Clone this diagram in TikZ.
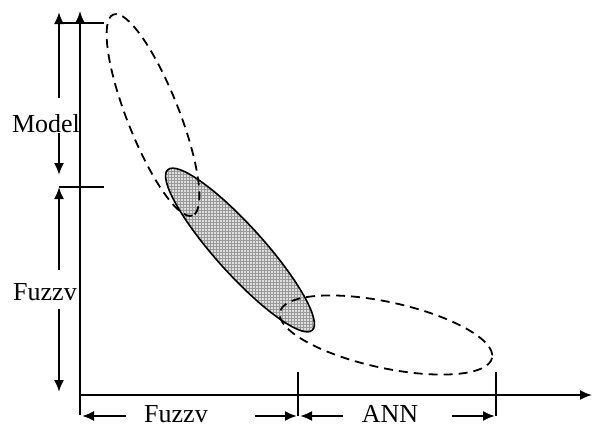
\documentclass[tikz,border=0pt]{standalone}
\usepackage{fontspec}
\setmainfont{Liberation Serif}
\usetikzlibrary{arrows.meta,patterns}

\begin{document}
\begin{tikzpicture}[x=1pt,y=-1pt,
    dim/.style={line width=2pt,-{Latex[length=12pt,width=10pt]}},
    lbl/.style={font=\fontsize{26}{30}\selectfont,inner sep=0pt},
    region/.style={line width=1.8pt,dash pattern=on 9pt off 6pt}]
    \useasboundingbox (0,0) rectangle (592,426);

    % axes
    \draw[dim,line width=1.8pt] (80,415) -- (80,11);
    \draw[dim,line width=1.8pt] (80,395) -- (592,395);

    % ticks
    \foreach \y in {23,187}
        \draw[line width=2pt] (59,\y) -- (104,\y);
    \foreach \x in {298,496}
        \draw[line width=2pt] (\x,372) -- (\x,416);

    % shaded overlap region
    \filldraw[line width=1.6pt, shift={(240,250)}, rotate=-48,
        preaction={fill=gray!25}, pattern=grid, pattern color=gray!80]
        (0,0) ellipse [x radius=108, y radius=24];

    % dashed regions
    \draw[region, shift={(153,115)}, rotate=-68.5]
        (0,0) ellipse [x radius=108, y radius=26];
    \draw[region, shift={(386,335)}, rotate=-12.2]
        (0,0) ellipse [x radius=108.5, y radius=33];

    % vertical labels
    \coordinate (mtop) at (59,12);
    \coordinate (mbot) at (59,175);
    \coordinate (ftop) at (59,187);
    \coordinate (fbot) at (59,392);
    \node[lbl] (model) at (46,124) {Model};
    \node[lbl] (fuzzl) at (45,292) {Fuzzv};
    \draw[dim] ([yshift=17pt]model.north -| mtop) -- (mtop);
    \draw[dim] (model.south -| mbot) -- (mbot);
    \draw[dim] ([yshift=13pt]fuzzl.north -| ftop) -- (ftop);
    \draw[dim] ([yshift=-8pt]fuzzl.south -| fbot) -- (fbot);

    % horizontal labels
    \coordinate (fl) at (82,416);
    \coordinate (fr) at (297,416);
    \coordinate (al) at (300,416);
    \coordinate (ar) at (495,416);
    \node[lbl,anchor=base] (fuzzb) at (176,422) {Fuzzv};
    \node[lbl,anchor=base] (ann) at (390,422) {ANN};
    \draw[dim] ([xshift=-18pt]fuzzb.west |- fl) -- (fl);
    \draw[dim] ([xshift=47pt]fuzzb.east |- fr) -- (fr);
    \draw[dim] ([xshift=-19pt]ann.west |- al) -- (al);
    \draw[dim] ([xshift=34pt]ann.east |- ar) -- (ar);
\end{tikzpicture}
\end{document}
